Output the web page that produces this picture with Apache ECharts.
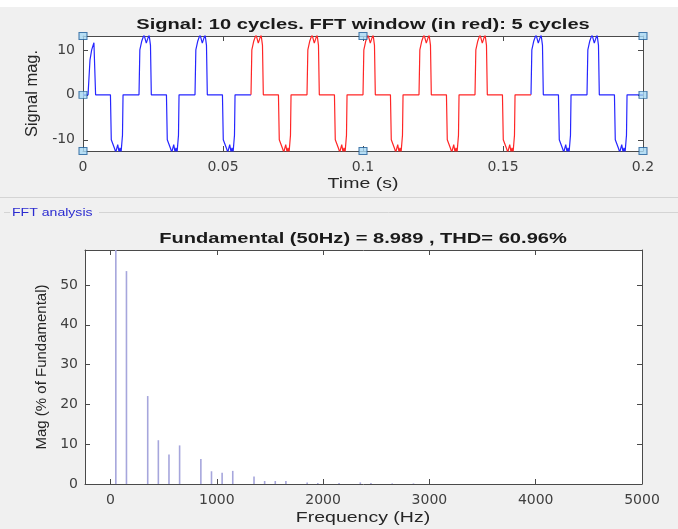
<!DOCTYPE html>
<html lang="en">
<head>
    <meta charset="UTF-8">
    <title>FFT analysis</title>
</head>
<script src="https://cdn.jsdelivr.net/npm/echarts@6/dist/echarts.min.js"></script>
<body style="margin:0;background:#f0f0f0">
<div id="main" style="width:678px;height:529px;"></div>
<script type="text/javascript">
    // signal: one steady cycle (relative time s, value), first cycle has a start-up pulse
    var firstT = [0, 0.0018, 0.0025, 0.0031, 0.0039, 0.0045, 0.0098, 0.0101, 0.0113, 0.0117, 0.0124, 0.0129, 0.0132, 0.0136, 0.0141, 0.0143];
    var firstV = [0, 0, 7.8, 10, 11.6, 0, 0, -10, -12, -12.8, -11.1, -12.8, -11.8, -12.8, -9, 0];
    var cycleT = [0, 0.0003, 0.0010, 0.0018, 0.0026, 0.0036, 0.0041, 0.0044, 0.0098, 0.0101, 0.0113, 0.0117, 0.0124, 0.0129, 0.0132, 0.0136, 0.0141, 0.0143];
    var cycleV = [0, 10, 12, 13.4, 11.5, 13.4, 11, 0, 0, -10, -12, -12.8, -11.1, -12.8, -11.8, -12.8, -9, 0];
    var cycleStarts = [0, 0.02, 0.04, 0.06, 0.08, 0.10, 0.12, 0.14, 0.16, 0.18];
    var windowStart = 0.06, windowEnd = 0.16;
    var sigMin = -12.5, sigMax = 13.1;
    var sigTicks = [-10, 0, 10];

    // spectrum (% of fundamental)
    var freqs = [50, 150, 350, 450, 550, 650, 850, 950, 1050, 1150, 1350, 1450, 1550, 1650, 1850, 1950, 2150, 2350, 2450, 2650, 2850];
    var mags = [100, 53.5, 22.1, 11.0, 7.4, 9.7, 6.3, 3.2, 2.8, 3.3, 1.9, 0.75, 0.75, 0.75, 0.4, 0.25, 0.25, 0.4, 0.25, 0.15, 0.15];
    var freqTicks = [0, 1000, 2000, 3000, 4000, 5000];

    var signal = [];
    cycleStarts.forEach(function (c, i) {
        var tt = i === 0 ? firstT : cycleT, vv = i === 0 ? firstV : cycleV;
        for (var k = 0; k < tt.length; k++) signal.push([c + tt[k], vv[k]]);
    });
    signal.push([0.2, 0]);
    var inWin = function (p) { return p[0] >= windowStart - 1e-9 && p[0] <= windowEnd + 1e-9; };
    var red = signal.filter(inWin);
    // blue outside the window, broken by a gap
    var blue = [];
    signal.forEach(function (p) {
        if (p[0] <= windowStart + 1e-9 || p[0] >= windowEnd - 1e-9) blue.push(p);
        if (Math.abs(p[0] - windowStart) < 1e-9) blue.push(null);
    });

    var handles = [[0, sigMax], [0, 0], [0, sigMin], [0.1, sigMax], [0.1, sigMin], [0.2, sigMax], [0.2, 0], [0.2, sigMin]];
    var bars = freqs.map(function (f, i) { return [f, mags[i]]; });

    var font = 'Liberation Sans, Arial, sans-serif';
    var axisCol = '#4a4a4a';
    var lab = { color: '#404040', fontSize: 14, fontFamily: 'DejaVu Sans, sans-serif' };
    function ax(extra) {
        var o = {
            axisLine: { show: true, onZero: false, lineStyle: { color: axisCol, width: 1 } },
            axisTick: { show: true, inside: true, length: 5, lineStyle: { color: axisCol } },
            splitLine: { show: false },
            nameTextStyle: { color: '#262626', fontSize: 15, fontFamily: font }
        };
        for (var k in extra) o[k] = extra[k];
        return o;
    }
    function stretched(txt, x, y, size, weight, color, sx) {
        return { type: 'text', x: x, y: y, scaleX: sx, z: 10,
                 style: { text: txt, fill: color, font: weight + ' ' + size + 'px ' + font, align: 'center', verticalAlign: 'middle' } };
    }

    var myChart = echarts.init(document.getElementById('main'));
    var option = {
        backgroundColor: '#f0f0f0',
        animation: false,
        graphic: [
            { type: 'rect', shape: { x: 0, y: 0, width: 678, height: 7 }, style: { fill: '#ffffff' } },
            { type: 'line', shape: { x1: 0, y1: 197.5, x2: 678, y2: 197.5 }, style: { stroke: '#d4d4d4', lineWidth: 1 } },
            { type: 'line', shape: { x1: 4, y1: 212.5, x2: 10, y2: 212.5 }, style: { stroke: '#d4d4d4', lineWidth: 1 } },
            { type: 'line', shape: { x1: 99, y1: 212.5, x2: 678, y2: 212.5 }, style: { stroke: '#d4d4d4', lineWidth: 1 } },
            { type: 'text', x: 12, y: 213, scaleX: 1.28, style: { text: 'FFT analysis', fill: '#2b2bd0', font: '11px ' + font, verticalAlign: 'middle' } },
            stretched('Signal: 10 cycles. FFT window (in red): 5 cycles', 363, 25, 15, 'bold', '#1a1a1a', 1.34),
            stretched('Fundamental (50Hz) = 8.989 , THD= 60.96%', 363, 239, 15, 'bold', '#1a1a1a', 1.34),
            stretched('Time (s)', 363, 184, 15, 'normal', '#262626', 1.3),
            stretched('Frequency (Hz)', 363, 518, 15, 'normal', '#262626', 1.3)
        ],
        grid: [
            { left: 83, right: 35, top: 36, height: 115, show: true, backgroundColor: '#ffffff', borderWidth: 0 },
            { left: 85, right: 36, top: 250, height: 234, show: true, backgroundColor: '#ffffff', borderWidth: 0 }
        ],
        xAxis: [
            ax({ type: 'value', gridIndex: 0, min: 0, max: 0.2, interval: 0.05, position: 'bottom',
                 axisLabel: Object.assign({ margin: 9, formatter: function (v) { return String(+v.toFixed(2)); } }, lab) }),
            ax({ type: 'value', gridIndex: 0, min: 0, max: 0.2, interval: 0.05, position: 'top', axisLabel: { show: false } }),
            ax({ type: 'value', gridIndex: 1, min: -240, max: 5000, position: 'bottom',
                 axisTick: { show: true, inside: true, length: 5, customValues: freqTicks, lineStyle: { color: axisCol } },
                 axisLabel: Object.assign({ margin: 9, customValues: freqTicks, formatter: function (v) { return String(v); } }, lab) }),
            ax({ type: 'value', gridIndex: 1, min: -240, max: 5000, position: 'top', axisLabel: { show: false },
                 axisTick: { show: true, inside: true, length: 5, customValues: freqTicks, lineStyle: { color: axisCol } } })
        ],
        yAxis: [
            ax({ type: 'value', gridIndex: 0, min: sigMin, max: sigMax, position: 'left',
                 name: 'Signal mag.', nameLocation: 'middle', nameGap: 41,
                 nameTextStyle: { color: '#262626', fontSize: 16.5, fontFamily: font },
                 axisTick: { show: true, inside: true, length: 5, customValues: sigTicks, lineStyle: { color: axisCol } },
                 axisLabel: Object.assign({ margin: 8, customValues: sigTicks }, lab) }),
            ax({ type: 'value', gridIndex: 0, min: sigMin, max: sigMax, position: 'right', axisLabel: { show: false },
                 axisTick: { show: true, inside: true, length: 5, customValues: sigTicks, lineStyle: { color: axisCol } } }),
            ax({ type: 'value', gridIndex: 1, min: 0, max: 58.8, interval: 10, position: 'left',
                 name: 'Mag (% of Fundamental)', nameLocation: 'middle', nameGap: 32,
                 axisLabel: Object.assign({ margin: 7, showMaxLabel: false }, lab) }),
            ax({ type: 'value', gridIndex: 1, min: 0, max: 58.8, interval: 10, position: 'right', axisLabel: { show: false } })
        ],
        series: [
            { type: 'line', xAxisIndex: 0, yAxisIndex: 0, data: blue, symbol: 'none', clip: true, connectNulls: false,
              lineStyle: { color: '#2626ff', width: 1.2 } },
            { type: 'line', xAxisIndex: 0, yAxisIndex: 0, data: red, symbol: 'none', clip: true,
              lineStyle: { color: '#ff2626', width: 1.2 } },
            { type: 'scatter', xAxisIndex: 0, yAxisIndex: 0, data: handles, symbol: 'rect', symbolSize: [8, 7], clip: false,
              itemStyle: { color: '#a9d9f5', borderColor: '#1d5d99', borderWidth: 1 }, z: 5 },
            { type: 'bar', xAxisIndex: 2, yAxisIndex: 2, data: bars, barWidth: 1.6, clip: true,
              itemStyle: { color: '#a6a6dc' } }
        ]
    };
    myChart.setOption(option);
</script>
</body>
</html>
